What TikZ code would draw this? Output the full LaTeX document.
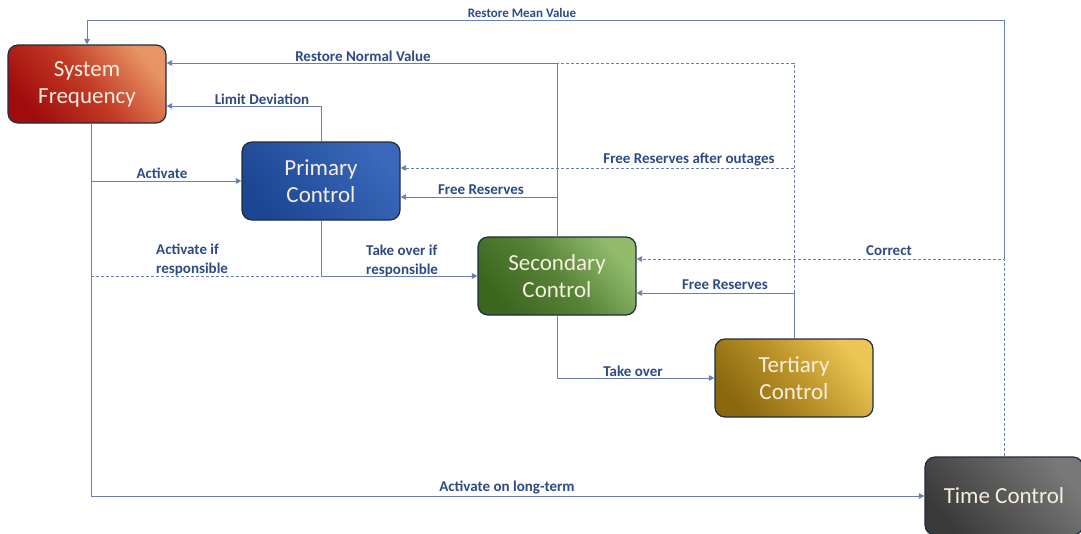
\documentclass[tikz,border=0pt]{standalone}
\usepackage{fontspec}
\setmainfont{Carlito}
\usetikzlibrary{arrows.meta}

\definecolor{wirec}{HTML}{6A7FAD}
\definecolor{labc}{HTML}{2C4A86}
\definecolor{edgec}{HTML}{1F2B42}
\definecolor{cream}{HTML}{F6EEDF}
\definecolor{sfl}{HTML}{E89464}
\definecolor{sfm}{HTML}{C23A26}
\definecolor{sfd}{HTML}{A00C0C}

\tikzset{
  blk/.style={draw=edgec, line width=1.2pt, rounded corners=10pt,
    minimum width=158pt, minimum height=78pt, align=center,
    font=\fontsize{23}{27}\selectfont, text=cream, inner sep=2pt},
  sfshade/.style={top color=sfl, bottom color=sfd, middle color=sfm, shading angle=-50},
  wire/.style={draw=wirec, line width=0.85pt, -{Triangle[length=5.5pt,width=5.5pt]}},
  dline/.style={draw=wirec, line width=0.85pt, dash pattern=on 3pt off 2pt},
  dwire/.style={wire, dash pattern=on 3pt off 2pt},
  lab/.style={font=\bfseries\fontsize{15}{19.5}\selectfont, text=labc, inner sep=0pt},
  labl/.style={lab, align=left, anchor=west}
}

\begin{document}
\begin{tikzpicture}[x=1pt, y=-1pt]
\useasboundingbox (0,0) rectangle (1081,533);
\begin{scope}
\clip (0,0) rectangle (1081,533);

% control blocks
\node[blk, sfshade] (sf) at (87,84) {System\\Frequency};
\node[blk, top color={rgb,255:red,58;green,104;blue,186}, bottom color={rgb,255:red,28;green,70;blue,146}, shading angle=-50] (pc) at (321,181) {Primary\\Control};
\node[blk, top color={rgb,255:red,146;green,188;blue,108}, bottom color={rgb,255:red,60;green,102;blue,30}, middle color={rgb,255:red,88;green,130;blue,55}, shading angle=-50] (sc) at (557,276) {Secondary\\Control};
\node[blk, top color={rgb,255:red,236;green,198;blue,84}, bottom color={rgb,255:red,138;green,104;blue,14}, middle color={rgb,255:red,186;green,146;blue,40}, shading angle=-50] (tc) at (794,378) {Tertiary\\Control};
\node[blk, top color={rgb,255:red,120;green,120;blue,120}, bottom color={rgb,255:red,58;green,58;blue,58}, shading angle=-50] (tm) at (1004,496) {Time Control};
\end{scope}

% bend points
\coordinate (fs) at ([xshift=4pt]sf.south);
\coordinate (rmv) at (tm.north |- 0,20);
\coordinate (cor) at (tm.north |- 0,259);
\coordinate (rnv) at (sc.north |- 0,63);
\coordinate (tjn) at (tc.north |- 0,63);

% restore mean value
\draw[dwire] (tm.north) -- (cor) -- ([yshift=17pt]sc.east);
\draw[wire] (cor) -- (rmv) -| (sf.north);
\node[lab, font=\bfseries\fontsize{13}{15}\selectfont] (l1) at (522,13) {Restore Mean Value};

% restore normal value / free reserves from secondary
\draw[wire] (sc.north) -- (rnv) -- ([yshift=21pt]sf.east);
\node[lab] (l2) at (363,56) {Restore Normal Value};
\draw[wire] (sc.north |- 0,197) -- ([yshift=-16pt]pc.east);
\node[lab] (l3) at (481,190) {Free Reserves};

% limit deviation
\draw[wire] (pc.north) |- ([yshift=-22pt]sf.east);
\node[lab] (l4) at (262,99) {Limit Deviation};

% tertiary reserves
\draw[dline] (tc.north) -- (tjn) -- (rnv);
\draw[dwire] (tc.north |- 0,168) -- ([yshift=13pt]pc.east);
\node[lab] (l5) at (689,160) {Free Reserves after outages};
\draw[wire] (tc.north) |- ([yshift=-17pt]sc.east);
\node[lab] (l6) at (725,285) {Free Reserves};
\node[lab] (l7) at (889,251) {Correct};

% activation paths from system frequency
\draw[wire] (fs) |- (pc.west);
\node[lab] (l8) at (162,173) {Activate};
\draw[wire] (fs) |- (tm.west);
\node[lab] (l9) at (507,487) {Activate on long-term};
\draw[dline] (fs |- sc.west) -- (pc.south |- sc.west);
\node[labl] (l10) at (156,260) {Activate if\\responsible};
\draw[wire] (pc.south) |- (sc.west);
\node[labl] (l11) at (366,261) {Take over if\\responsible};

% secondary hands over to tertiary
\draw[wire] (sc.south) |- (tc.west);
\node[lab] (l12) at (633,371) {Take over};
\end{tikzpicture}
\end{document}
